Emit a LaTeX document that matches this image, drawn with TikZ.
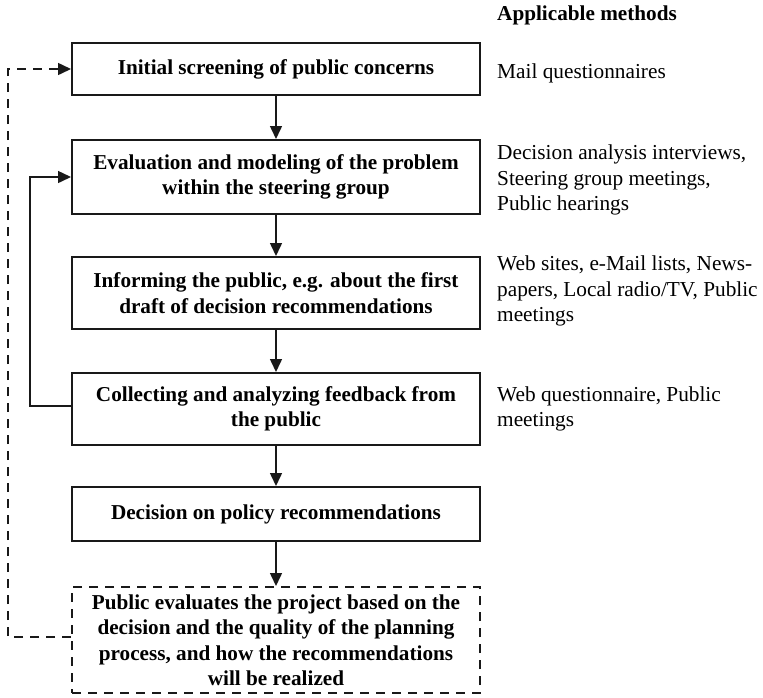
\documentclass[tikz,border=0pt]{standalone}
\usepackage{fontspec}
\setmainfont{Liberation Serif}
\usetikzlibrary{arrows.meta}
\begin{document}
\begin{tikzpicture}[x=1pt,y=-1pt,
  stepbox/.style={draw=black!90, line width=2pt, minimum width=408pt, align=center,
    inner sep=0pt, font=\fontsize{21.2}{25.5}\selectfont\bfseries},
  methods/.style={anchor=west, align=left, inner sep=0pt,
    font=\fontsize{21.3}{25.5}\selectfont},
  flow/.style={line width=1.5pt, draw=black!90, -{Triangle[length=13pt,width=12pt]}},
  loopback/.style={flow, dash pattern=on 9pt off 7pt}]
\useasboundingbox (0,0) rectangle (763,697);

% process steps
\node[stepbox, minimum height=52pt] (b1) at (276,69) {Initial screening of public concerns};
\node[stepbox, minimum height=74pt] (b2) at (276,177) {Evaluation and modeling of the problem\\within the steering group};
\node[stepbox, minimum height=72pt] (b3) at (276,293) {Informing the public, e.g. about the first\\draft of decision recommendations};
\node[stepbox, minimum height=72pt] (b4) at (276,409) {Collecting and analyzing feedback from\\the public};
\node[stepbox, minimum height=54pt] (b5) at (276,514) {Decision on policy recommendations};
\node[stepbox, minimum height=106pt, dash pattern=on 9pt off 7pt] (b6) at (276,640)
  {Public evaluates the project based on the\\decision and the quality of the planning\\process, and how the recommendations\\will be realized};

% methods column
\node[methods, font=\fontsize{21.2}{25.5}\selectfont\bfseries] (head) at (497,15) {Applicable methods};
\node[methods] (m1) at (497,73) {Mail questionnaires};
\node[methods] (m2) at (497,180) {Decision analysis interviews,\\Steering group meetings,\\Public hearings};
\node[methods] (m3) at (497,291) {Web sites, e-Mail lists, News-\\papers, Local radio/TV, Public\\meetings};
\node[methods] (m4) at (497,409) {Web questionnaire, Public\\meetings};

% main sequence
\draw[flow] (b1) -- (b2);
\draw[flow] (b2) -- (b3);
\draw[flow] (b3) -- (b4);
\draw[flow] (b4) -- (b5);
\draw[flow] (b5) -- (b6);

% feedback loops
\draw[flow] ([yshift=3pt]b4.west) -- ++(-41,0) |- (b2.west);
\draw[loopback] ([yshift=3pt]b6.west) -- ++(-63,0) |- (b1.west);
\end{tikzpicture}
\end{document}
